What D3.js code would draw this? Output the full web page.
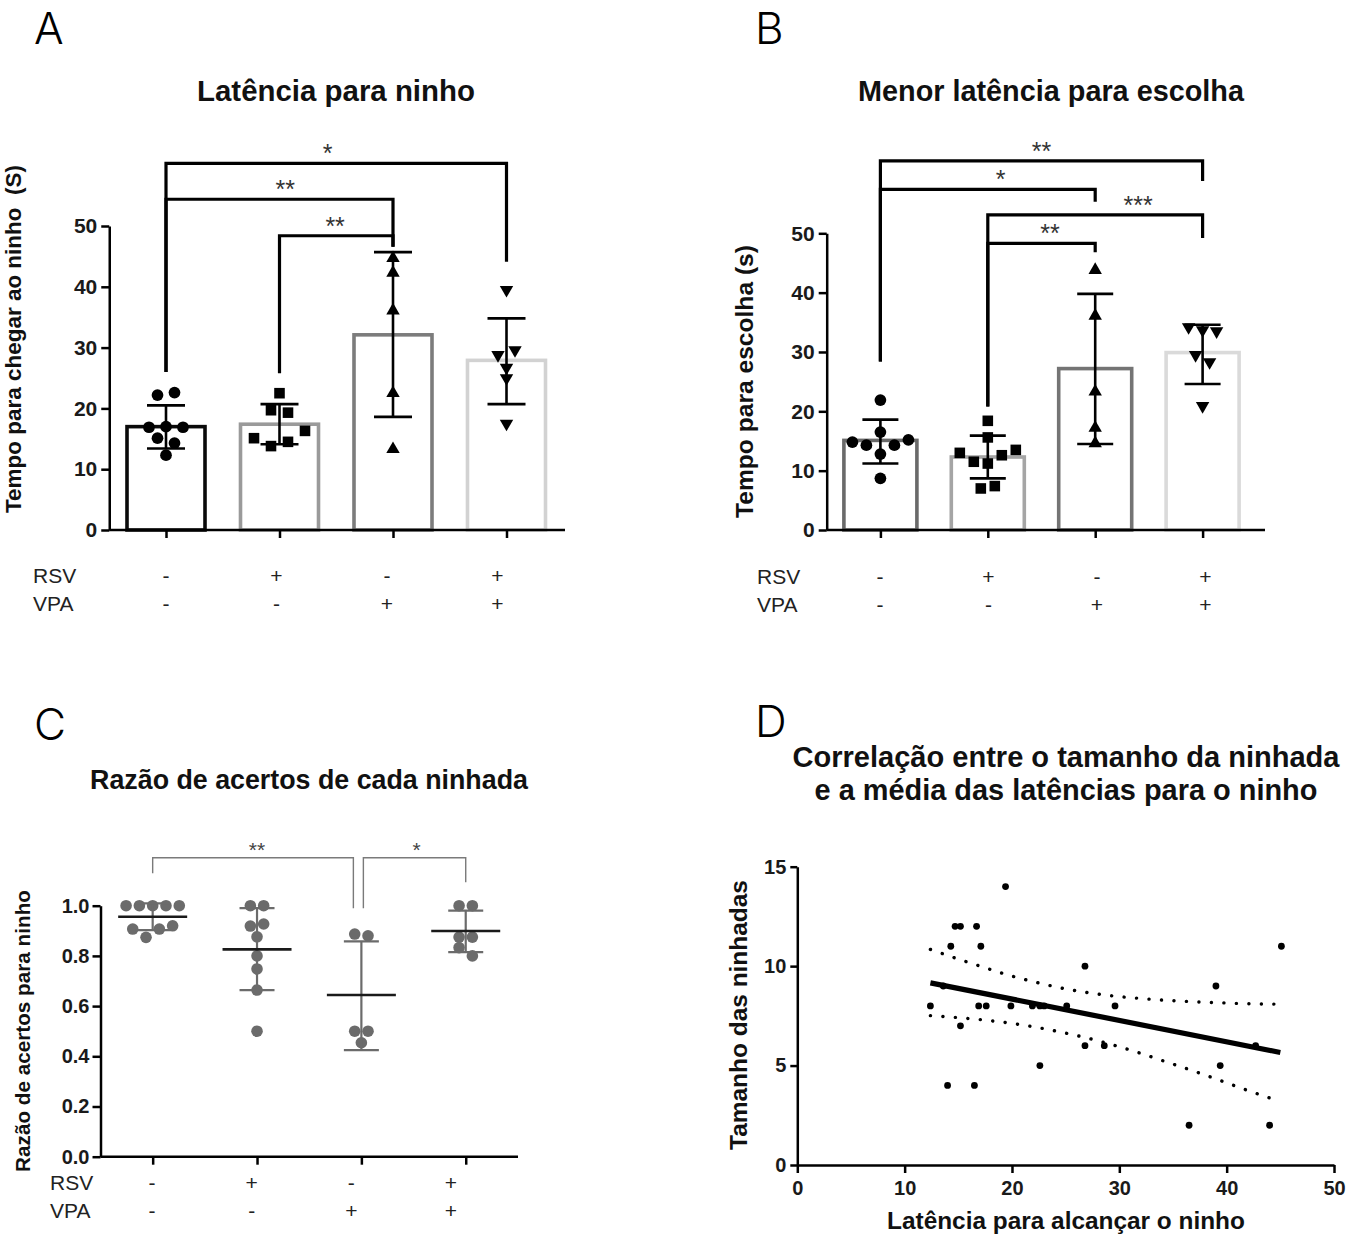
<!DOCTYPE html>
<html lang="pt">
<head>
<meta charset="utf-8">
<script src="https://cdn.jsdelivr.net/npm/d3@7"></script>
<style>
html,body{margin:0;padding:0;background:#fff;}
svg{display:block;}
</style>
</head>
<body>
<svg id="fig" width="1360" height="1239"></svg>
<script>
// ================= DATA =================
const groups = ["ctrl", "rsv", "vpa", "rsvvpa"];
const rsvRow = ["-", "+", "-", "+"];
const vpaRow = ["-", "-", "+", "+"];

// ---- Panel A : Latência para ninho ----
const aTitle = "Latência para ninho";
const aYLabel = "Tempo para chegar ao ninho  (S)";
const aTicks = [0, 10, 20, 30, 40, 50];
const aMeans = [17.0, 17.4, 32.1, 27.9];
const aSdHigh = [20.5, 20.7, 45.7, 34.8];
const aSdLow = [13.4, 14.1, 18.6, 20.7];
const aPoints = [
  [22.2, 22.6, 16.9, 17.0, 16.9, 15.1, 14.3, 12.3],
  [22.5, 19.7, 19.3, 15.1, 13.8, 14.5, 16.3],
  [44.7, 42.3, 36.1, 22.5, 13.3],
  [39.5, 28.8, 29.6, 26.7, 25.0, 17.5]
];
const aBrFrom = [0, 0, 1];
const aBrTo = [3, 2, 2];
const aBrLevel = [60.3, 54.4, 48.4];
const aBrLeftEnd = [26.0, 26.0, 25.8];
const aBrRightEnd = [44.1, 46.6, 46.6];
const aBrLabel = ["*", "**", "**"];

// ---- Panel B : Menor latência para escolha ----
const bTitle = "Menor latência para escolha";
const bYLabel = "Tempo para escolha (s)";
const bTicks = [0, 10, 20, 30, 40, 50];
const bMeans = [15.1, 12.3, 27.2, 29.9];
const bSdHigh = [18.6, 15.9, 39.8, 34.6];
const bSdLow = [11.2, 8.7, 14.5, 24.6];
const bPoints = [
  [21.9, 14.8, 14.3, 16.5, 14.3, 15.2, 12.8, 8.7],
  [18.4, 15.6, 13.0, 11.5, 11.2, 12.6, 13.5, 7.0, 7.4],
  [43.8, 36.1, 23.3, 17.2, 14.6],
  [34.2, 33.7, 33.5, 29.5, 28.3, 20.9]
];
const bBrFrom = [0, 0, 1, 1];
const bBrTo = [3, 2, 3, 2];
const bBrLevel = [62.2, 57.4, 53.1, 48.3];
const bBrLeftEnd = [28.4, 28.4, 20.8, 20.8];
const bBrRightEnd = [58.8, 55.3, 49.2, 46.8];
const bBrLabel = ["**", "*", "***", "**"];

// ---- Panel C : Razão de acertos de cada ninhada ----
const cTitle = "Razão de acertos de cada ninhada";
const cYLabel = "Razão de acertos para ninho";
const cTicks = [0, 0.2, 0.4, 0.6, 0.8, 1.0];
const cMeans = [0.956, 0.826, 0.644, 0.899];
const cSdHigh = [1.009, 0.99, 0.858, 0.98];
const cSdLow = [0.903, 0.664, 0.425, 0.815];
const cPoints = [
  [1, 1, 1, 1, 1, 0.907, 0.874, 0.907, 0.92],
  [1, 1, 0.919, 0.927, 0.876, 0.8, 0.748, 0.664, 0.5],
  [0.887, 0.88, 0.5, 0.454, 0.5],
  [1, 1, 0.875, 0.875, 0.833, 0.8]
];
const cBrFrom = [0, 2];
const cBrTo = [2, 3];
const cBrLevel = [1.191, 1.191];
const cBrLeftEnd = [1.129, 0.99];
const cBrRightEnd = [0.99, 1.093];
const cBrLabel = ["**", "*"];

// ---- Panel D : correlação ----
const dTitle1 = "Correlação entre o tamanho da ninhada";
const dTitle2 = "e a média das latências para o ninho";
const dXLabel = "Latência para alcançar o ninho";
const dYLabel = "Tamanho das ninhadas";
const dTicksX = [0, 10, 20, 30, 40, 50];
const dTicksY = [0, 5, 10, 15];
const dLatency = [19.4, 14.7, 15.2, 16.7, 14.3, 17.1, 26.8, 45.1, 39.0, 12.4, 13.6, 16.9, 17.6, 19.9, 21.9, 22.6, 23.0, 25.1, 29.6, 15.2, 26.8, 28.6, 42.7, 22.6, 39.4, 14.0, 16.5, 36.5, 44.0];
const dLitter  = [14,   12,   12,   12,   11,   11,   10,   11,   9,    8,    9,    8,    8,    8,    8,    8,    8,    8,    8,    7,    6,    6,    6,    5,    5,    4,    4,    2,    2];
const regX = [12.4, 45.0];
const regY = [9.16, 5.66];
const ciX     = [12.4, 14.8, 17.2, 19.6, 22.0, 24.4, 26.9, 29.4, 31.9, 34.4, 36.9, 39.3, 41.8, 44.4];
const ciUpper = [10.84, 10.39, 9.97, 9.56, 9.22, 8.92, 8.68, 8.50, 8.38, 8.28, 8.21, 8.16, 8.11, 8.09];
const ciLower = [7.51, 7.42, 7.30, 7.15, 6.95, 6.70, 6.40, 6.04, 5.63, 5.18, 4.73, 4.27, 3.78, 3.30];

// ================= DRAWING =================
const svg = d3.select("#fig");
const SANS = "'Liberation Sans', Arial, Helvetica, sans-serif";
const LIGHT = "Inter, 'Open Sans', 'Noto Sans', sans-serif";

function fit(sel, target) {
  const fs = parseFloat(sel.attr("font-size"));
  const len = sel.node().getComputedTextLength();
  if (len > 0) sel.attr("font-size", (fs * target / len).toFixed(2));
  return sel;
}
function text(g, str, x, y, size, opt = {}) {
  const t = g.append("text")
    .attr("x", x).attr("y", y)
    .attr("font-family", opt.family || SANS)
    .attr("font-size", size)
    .attr("font-weight", opt.weight || "normal")
    .attr("fill", opt.fill || "#111")
    .attr("text-anchor", opt.anchor || "middle")
    .style("white-space", "pre")
    .text(str);
  if (opt.rotate) t.attr("x", 0).attr("y", 0).attr("transform", `translate(${x},${y}) rotate(-90)`);
  if (opt.width) fit(t, opt.width);
  return t;
}

// horizontal dodge of overlapping points (rows centred on group centre)
function dodge(vals, y, spacing, thresh) {
  const idx = vals.map((v, i) => i).sort((a, b) => vals[b] - vals[a]);
  const rows = [];
  let cur = [idx[0]];
  for (let k = 1; k < idx.length; k++) {
    if (Math.abs(y(vals[idx[k]]) - y(vals[idx[k - 1]])) < thresh) cur.push(idx[k]);
    else { rows.push(cur); cur = [idx[k]]; }
  }
  rows.push(cur);
  const off = new Array(vals.length).fill(0);
  rows.forEach(r => {
    r.sort((a, b) => a - b);
    r.forEach((i, j) => off[i] = (j - (r.length - 1) / 2) * spacing);
  });
  return off;
}

// panel letters
[["A", 34, 43.5], ["B", 755, 43.5], ["C", 34, 740], ["D", 755, 737]].forEach(([l, x, y]) => {
  text(svg, l, x, y, 44, { family: LIGHT, weight: 300, anchor: "start", fill: "#000" });
});

function styleAxis(ax, fontSize) {
  ax.select(".domain").attr("stroke", "#000").attr("stroke-width", 2.5);
  ax.selectAll(".tick line").attr("stroke", "#000").attr("stroke-width", 2.5);
  ax.selectAll(".tick text").attr("font-family", SANS).attr("font-weight", "bold")
    .attr("font-size", fontSize).attr("fill", "#1a1a1a");
}

function signTable(g, cfg) {
  const tx = d3.scalePoint().domain(groups).range(cfg.tableRange);
  text(g, "RSV", cfg.tableLabelX, cfg.rsvY, 21, { anchor: "start", fill: "#222" });
  text(g, "VPA", cfg.tableLabelX, cfg.vpaY, 21, { anchor: "start", fill: "#222" });
  groups.forEach((gr, i) => {
    text(g, rsvRow[i], tx(gr), cfg.rsvY, 21, { fill: "#222" });
    text(g, vpaRow[i], tx(gr), cfg.vpaY, 21, { fill: "#222" });
  });
}

function brackets(g, x, y, cfg, from, to, level, leftEnd, rightEnd, labels) {
  from.forEach((f, i) => {
    const xl = x(groups[f]) + (cfg.brShiftL ? cfg.brShiftL[i] : 0);
    const xr = x(groups[to[i]]) + (cfg.brShiftR ? cfg.brShiftR[i] : 0);
    g.append("path")
      .attr("d", `M${xl},${y(leftEnd[i])}V${y(level[i])}H${xr}V${y(rightEnd[i])}`)
      .attr("fill", "none").attr("stroke", cfg.brColor).attr("stroke-width", cfg.brWidth)
      .attr("stroke-linejoin", "miter");
    const frac = cfg.labelFrac[i];
    text(g, labels[i], xl + (xr - xl) * frac, y(level[i]) - 1, cfg.starSize, { fill: cfg.starColor });
  });
}

const symTypes = [d3.symbolCircle, d3.symbolSquare, d3.symbolTriangle, d3.symbolTriangle];
const symSizes = [108, 112, 78, 78];
const symRot = [0, 0, 0, 180];

function barPanel(cfg) {
  const g = svg.append("g");
  const x = d3.scalePoint().domain(groups).range(cfg.xRange).padding(0.5);
  const y = d3.scaleLinear().domain([0, 50]).range(cfg.yRange);

  // bars
  g.selectAll("rect.bar").data(cfg.means).join("rect")
    .attr("class", "bar")
    .attr("x", (d, i) => x(groups[i]) - cfg.barW / 2)
    .attr("y", d => y(d))
    .attr("width", cfg.barW)
    .attr("height", d => y(0) - y(d))
    .attr("fill", "#fff")
    .attr("stroke", (d, i) => cfg.barColors[i])
    .attr("stroke-width", 3.6);

  // points
  cfg.points.forEach((vals, gi) => {
    const off = dodge(vals, y, cfg.spacing, cfg.thresh);
    const sym = d3.symbol().type(symTypes[gi]).size(symSizes[gi]);
    g.selectAll(null).data(vals).join("path")
      .attr("d", sym)
      .attr("transform", (d, i) => `translate(${x(groups[gi]) + off[i]},${y(d)}) rotate(${symRot[gi]})`)
      .attr("fill", "#000");
  });

  // error bars (mean ± SD)
  groups.forEach((gr, i) => {
    const cx = x(gr);
    const eb = g.append("g").attr("stroke", "#000").attr("stroke-width", 2.6);
    eb.append("line").attr("x1", cx).attr("x2", cx).attr("y1", y(cfg.sdLow[i])).attr("y2", y(cfg.sdHigh[i]));
    eb.append("line").attr("x1", cx - cfg.capHalf).attr("x2", cx + cfg.capHalf).attr("y1", y(cfg.sdHigh[i])).attr("y2", y(cfg.sdHigh[i]));
    eb.append("line").attr("x1", cx - cfg.capHalf).attr("x2", cx + cfg.capHalf).attr("y1", y(cfg.sdLow[i])).attr("y2", y(cfg.sdLow[i]));
  });

  // axes
  const ya = g.append("g").attr("transform", `translate(${cfg.xRange[0]},0)`)
    .call(d3.axisLeft(y).tickValues(cfg.ticks).tickSize(8).tickPadding(4).tickSizeOuter(0));
  styleAxis(ya, 21);
  const xa = g.append("g").attr("transform", `translate(0,${y(0)})`)
    .call(d3.axisBottom(x).tickSize(8).tickFormat("").tickSizeOuter(0));
  xa.select(".domain").attr("d", `M${cfg.xRange[0]},0H${cfg.axisEnd}`);
  styleAxis(xa, 21);

  brackets(g, x, y, cfg, cfg.brFrom, cfg.brTo, cfg.brLevel, cfg.brLeftEnd, cfg.brRightEnd, cfg.brLabel);
  signTable(g, cfg);

  text(g, cfg.title, cfg.titleX, cfg.titleY, 28, { weight: "bold", width: cfg.titleW });
  text(g, cfg.yLabel, cfg.yLabelX, cfg.yLabelY, 22, { weight: "bold", rotate: true, width: cfg.yLabelW });
}

barPanel({
  means: aMeans, sdHigh: aSdHigh, sdLow: aSdLow, points: aPoints, ticks: aTicks,
  brFrom: aBrFrom, brTo: aBrTo, brLevel: aBrLevel, brLeftEnd: aBrLeftEnd, brRightEnd: aBrRightEnd, brLabel: aBrLabel,
  labelFrac: [0.475, 0.525, 0.49],
  xRange: [109.25, 563.25], yRange: [530, 226], axisEnd: 565, barW: 78,
  barColors: ["#0a0a0a", "#9a9a9a", "#7c7c7c", "#d2d2d2"],
  capHalf: 19, spacing: 17, thresh: 8.3,
  brColor: "#000", brWidth: 3.2, starSize: 25, starColor: "#333",
  tableRange: [166, 497.5], tableLabelX: 33, rsvY: 583, vpaY: 611,
  title: aTitle, titleX: 336, titleY: 101, titleW: 278,
  yLabel: aYLabel, yLabelX: 21, yLabelY: 339, yLabelW: 348
});

barPanel({
  means: bMeans, sdHigh: bSdHigh, sdLow: bSdLow, points: bPoints, ticks: bTicks,
  brFrom: bBrFrom, brTo: bBrTo, brLevel: bBrLevel, brLeftEnd: bBrLeftEnd, brRightEnd: bBrRightEnd, brLabel: bBrLabel,
  labelFrac: [0.5, 0.56, 0.7, 0.58],
  xRange: [826.7, 1256.3], yRange: [530, 233.3], axisEnd: 1265, barW: 73,
  barColors: ["#6a6a6a", "#a5a5a5", "#747474", "#dadada"],
  capHalf: 18, spacing: 14, thresh: 8.3,
  brColor: "#000", brWidth: 3.2, starSize: 25, starColor: "#333",
  tableRange: [880, 1205.5], tableLabelX: 757, rsvY: 584, vpaY: 612,
  title: bTitle, titleX: 1051, titleY: 101, titleW: 386,
  yLabel: bYLabel, yLabelX: 753, yLabelY: 381.5, yLabelW: 273
});

// ---- Panel C ----
(function () {
  const cfg = {
    xRange: [100.5, 517.9], yRange: [1156.7, 905.7], axisEnd: 518,
    color: "#6b6b6b", spacing: 13.3, thresh: 9, meanHalf: 34.5, capHalf: 17.5,
    brColor: "#7a7a7a", brWidth: 1.4, starSize: 21, starColor: "#444",
    labelFrac: [0.52, 0.52], brShiftL: [0, 2], brShiftR: [-8, 0],
    tableRange: [152, 451], tableLabelX: 50, rsvY: 1190, vpaY: 1218
  };
  const g = svg.append("g");
  const x = d3.scalePoint().domain(groups).range(cfg.xRange).padding(0.5);
  const y = d3.scaleLinear().domain([0, 1]).range(cfg.yRange);

  cPoints.forEach((vals, gi) => {
    const off = dodge(vals, y, cfg.spacing, cfg.thresh);
    g.selectAll(null).data(vals).join("circle")
      .attr("cx", (d, i) => x(groups[gi]) + off[i])
      .attr("cy", d => y(d))
      .attr("r", 5.8)
      .attr("fill", cfg.color);
  });

  groups.forEach((gr, i) => {
    const cx = x(gr);
    const eb = g.append("g").attr("stroke", cfg.color).attr("stroke-width", 2.2);
    eb.append("line").attr("x1", cx).attr("x2", cx).attr("y1", y(cSdLow[i])).attr("y2", y(cSdHigh[i]));
    eb.append("line").attr("x1", cx - cfg.capHalf).attr("x2", cx + cfg.capHalf).attr("y1", y(cSdHigh[i])).attr("y2", y(cSdHigh[i]));
    eb.append("line").attr("x1", cx - cfg.capHalf).attr("x2", cx + cfg.capHalf).attr("y1", y(cSdLow[i])).attr("y2", y(cSdLow[i]));
    g.append("line").attr("x1", cx - cfg.meanHalf).attr("x2", cx + cfg.meanHalf)
      .attr("y1", y(cMeans[i])).attr("y2", y(cMeans[i]))
      .attr("stroke", "#1a1a1a").attr("stroke-width", 2.6);
  });

  const ya = g.append("g").attr("transform", `translate(${cfg.xRange[0]},0)`)
    .call(d3.axisLeft(y).tickValues(cTicks).tickFormat(d3.format(".1f")).tickSize(8).tickPadding(3).tickSizeOuter(0));
  styleAxis(ya, 20);
  const xa = g.append("g").attr("transform", `translate(0,${y(0)})`)
    .call(d3.axisBottom(x).tickSize(8).tickFormat("").tickSizeOuter(0));
  xa.select(".domain").attr("d", `M${cfg.xRange[0]},0H${cfg.axisEnd}`);
  styleAxis(xa, 20);

  brackets(g, x, y, cfg, cBrFrom, cBrTo, cBrLevel, cBrLeftEnd, cBrRightEnd, cBrLabel);
  signTable(g, cfg);

  text(g, cTitle, 309, 789, 28, { weight: "bold", width: 438 });
  text(g, cYLabel, 30, 1031, 20, { weight: "bold", rotate: true, width: 282 });
})();

// ---- Panel D ----
(function () {
  const g = svg.append("g");
  const x = d3.scaleLinear().domain([0, 50]).range([797.3, 1334]);
  const y = d3.scaleLinear().domain([0, 15]).range([1165, 866.7]);

  const ci = d3.line().curve(d3.curveMonotoneX).x(d => x(d[0])).y(d => y(d[1]));
  [ciUpper, ciLower].forEach(band => {
    g.append("path")
      .attr("d", ci(ciX.map((v, i) => [v, band[i]])))
      .attr("fill", "none").attr("stroke", "#000").attr("stroke-width", 3.4)
      .attr("stroke-linecap", "round").attr("stroke-dasharray", "0.1 12.4");
  });

  g.selectAll(null).data(dLatency).join("circle")
    .attr("cx", d => x(d))
    .attr("cy", (d, i) => y(dLitter[i]))
    .attr("r", 3.4)
    .attr("fill", "#000");

  g.append("path")
    .attr("d", d3.line().x(d => x(d[0])).y(d => y(d[1]))(regX.map((v, i) => [v, regY[i]])))
    .attr("fill", "none").attr("stroke", "#000").attr("stroke-width", 5.2);

  const ya = g.append("g").attr("transform", `translate(${x(0)},0)`)
    .call(d3.axisLeft(y).tickValues(dTicksY).tickSize(7).tickPadding(4).tickSizeOuter(0));
  styleAxis(ya, 20);
  const xa = g.append("g").attr("transform", `translate(0,${y(0)})`)
    .call(d3.axisBottom(x).tickValues(dTicksX).tickSize(8).tickPadding(8).tickSizeOuter(0));
  styleAxis(xa, 20);

  text(g, dTitle1, 1066, 767, 28, { weight: "bold", width: 547 });
  text(g, dTitle2, 1066, 800, 28, { weight: "bold", width: 503 });
  text(g, dXLabel, 1066, 1229, 21, { weight: "bold", width: 358 });
  text(g, dYLabel, 747, 1015, 21, { weight: "bold", rotate: true, width: 270 });
})();
</script>
</body>
</html>
